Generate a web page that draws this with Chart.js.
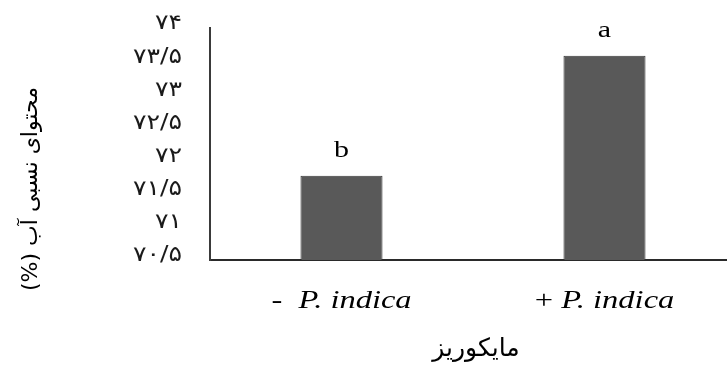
<!DOCTYPE html>
<html>
<head>
<meta charset="utf-8">
<script src="https://cdn.jsdelivr.net/npm/chart.js@4"></script>
<style>
  html, body { margin: 0; padding: 0; background: #fff; overflow: hidden; }
  #wrap { width: 727px; height: 365px; overflow: hidden; }
  canvas { display: block; }
</style>
</head>
<body>
<div id="wrap"><canvas id="c" width="760" height="365" style="width:760px;height:365px"></canvas></div>
<script>
// Relative water content with and without Piriformospora indica
const categories = ['-  P. indica', '+ P. indica'];
const waterContent = [71.77, 73.58];
const groupLetters = ['b', 'a'];
const yTickLabels = ['۷۰/۵', '۷۱', '۷۱/۵', '۷۲', '۷۲/۵', '۷۳', '۷۳/۵', '۷۴'];
const yMin = 70.5, yMax = 74, yStep = 0.5;
const yTitle = 'محتوای نسبی آب (%)';
const xTitle = 'مایکوریز';

const SERIF = '"Liberation Serif", "Times New Roman", serif';
const SANS = '"DejaVu Sans", sans-serif';
const STRETCH = 1.25;   // wide letterforms used for the labels
const INK = '#000';

const labelsPlugin = {
  id: 'labels',
  afterDraw(chart) {
    const ctx = chart.ctx;
    const xs = chart.scales.x;
    const ys = chart.scales.y;
    ctx.save();
    ctx.fillStyle = INK;

    // y tick labels, right aligned left of the axis
    ys.ticks.forEach((tick, i) => {
      const py = ys.getPixelForValue(tick.value) - 4;
      ctx.save();
      ctx.translate(182, py);
      ctx.scale(1.2, 1);
      ctx.font = '21px ' + SANS;
      ctx.textAlign = 'right';
      ctx.textBaseline = 'middle';
      ctx.fillStyle = '#1a1a1a';
      ctx.fillText(yTickLabels[i], 0, 0);
      ctx.restore();
    });

    // category labels: upright sign, italic species name
    categories.forEach((cat, i) => {
      const m = cat.match(/^(\S+)(\s+)(.*)$/);
      const prefix = m[1] + m[2];
      const name = m[3];
      const cx = xs.getPixelForValue(i);
      ctx.font = '26px ' + SERIF;
      const wp = ctx.measureText(prefix).width;
      ctx.font = 'italic 26px ' + SERIF;
      const wn = ctx.measureText(name).width;
      const total = (wp + wn) * STRETCH;
      ctx.save();
      ctx.translate(cx - total / 2, 308);
      ctx.scale(STRETCH, 1);
      ctx.textAlign = 'left';
      ctx.textBaseline = 'alphabetic';
      ctx.font = '26px ' + SERIF;
      ctx.fillText(prefix, 0, 0);
      ctx.font = 'italic 26px ' + SERIF;
      ctx.fillText(name, wp, 0);
      ctx.restore();
    });

    // significance letters above the bars
    const meta = chart.getDatasetMeta(0);
    meta.data.forEach((bar, i) => {
      ctx.save();
      ctx.translate(bar.x, bar.y - 19);
      ctx.scale(STRETCH, 1);
      ctx.font = '24px ' + SERIF;
      ctx.textAlign = 'center';
      ctx.textBaseline = 'alphabetic';
      ctx.fillText(groupLetters[i], 0, 0);
      ctx.restore();
    });

    // x axis title
    ctx.save();
    ctx.font = '25px ' + SANS;
    ctx.direction = 'rtl';
    ctx.textAlign = 'center';
    ctx.textBaseline = 'alphabetic';
    ctx.fillText(xTitle, (xs.left + xs.right) / 2 + 3, 356);
    ctx.restore();

    // y axis title, reading bottom to top
    ctx.save();
    ctx.translate(31, 189);
    ctx.rotate(-Math.PI / 2);
    ctx.font = '22px ' + SANS;
    ctx.direction = 'rtl';
    ctx.textAlign = 'center';
    ctx.textBaseline = 'middle';
    ctx.fillText(yTitle, 0, 0);
    ctx.restore();

    ctx.restore();
  }
};

new Chart(document.getElementById('c'), {
  type: 'bar',
  data: {
    labels: categories,
    datasets: [{
      data: waterContent,
      backgroundColor: '#595959',
      borderColor: '#383838',
      borderWidth: 1,
      borderSkipped: false,
      barPercentage: 0.312,
      categoryPercentage: 1.0
    }]
  },
  options: {
    responsive: false,
    animation: false,
    layout: { padding: { top: 28, right: 24, left: 0, bottom: 0 } },
    plugins: {
      legend: { display: false },
      tooltip: { enabled: false }
    },
    scales: {
      x: {
        grid: { display: false, drawTicks: false },
        border: { display: true, color: '#2a2a2a', width: 2 },
        ticks: { display: false },
        afterFit(scale) { scale.height = 105; }
      },
      y: {
        min: yMin,
        max: yMax,
        grid: { display: false, drawTicks: false },
        border: { display: true, color: '#3a3a3a', width: 2 },
        ticks: {
          stepSize: yStep,
          display: false
        },
        afterFit(scale) { scale.width = 210; }
      }
    }
  },
  plugins: [labelsPlugin]
});
</script>
</body>
</html>
